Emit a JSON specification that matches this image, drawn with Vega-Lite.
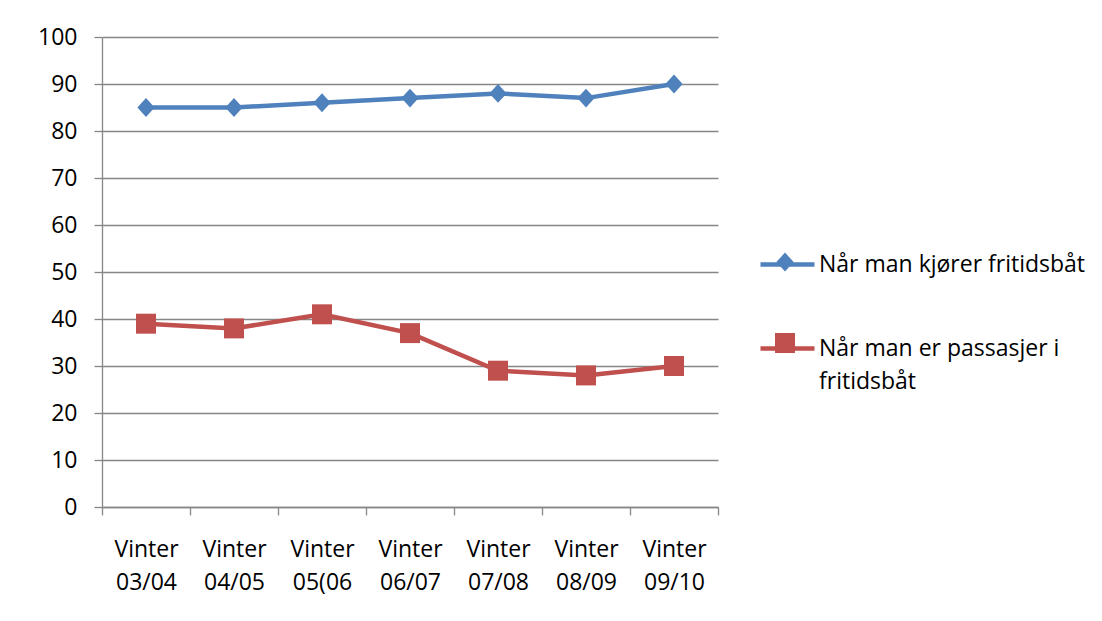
{
  "$schema": "https://vega.github.io/schema/vega-lite/v6.json",
  "width": 616,
  "height": 470,
  "autosize": {"type": "none"},
  "padding": {"left": 102, "top": 37, "right": 384, "bottom": 114},
  "background": "white",
  "config": {
    "view": {"stroke": null},
    "font": "Open Sans",
    "style": {"guide-label": {"lineHeight": 33}},
    "axis": {
      "labelFont": "Open Sans",
      "labelFontSize": 23,
      "labelColor": "#000000",
      "domainColor": "#868686",
      "tickColor": "#868686",
      "gridColor": "#868686",
      "domainWidth": 1.3,
      "tickWidth": 1.3,
      "gridWidth": 1.3,
      "tickSize": 8,
      "title": null
    },
    "legend": {
      "title": null,
      "orient": "none",
      "legendX": 656,
      "legendY": 198,
      "padding": 0,
      "symbolSize": 2916,
      "labelFont": "Open Sans",
      "labelFontSize": 23,
      "labelColor": "#000000",
      "labelOffset": 2,
      "labelLimit": 400,
      "rowPadding": 42
    }
  },
  "data": {
    "values": [
      {"season": "Vinter 03/04", "series": "Når man kjører fritidsbåt", "value": 85},
      {"season": "Vinter 04/05", "series": "Når man kjører fritidsbåt", "value": 85},
      {"season": "Vinter 05(06", "series": "Når man kjører fritidsbåt", "value": 86},
      {"season": "Vinter 06/07", "series": "Når man kjører fritidsbåt", "value": 87},
      {"season": "Vinter 07/08", "series": "Når man kjører fritidsbåt", "value": 88},
      {"season": "Vinter 08/09", "series": "Når man kjører fritidsbåt", "value": 87},
      {"season": "Vinter 09/10", "series": "Når man kjører fritidsbåt", "value": 90},
      {"season": "Vinter 03/04", "series": "Når man er passasjer i fritidsbåt", "value": 39},
      {"season": "Vinter 04/05", "series": "Når man er passasjer i fritidsbåt", "value": 38},
      {"season": "Vinter 05(06", "series": "Når man er passasjer i fritidsbåt", "value": 41},
      {"season": "Vinter 06/07", "series": "Når man er passasjer i fritidsbåt", "value": 37},
      {"season": "Vinter 07/08", "series": "Når man er passasjer i fritidsbåt", "value": 29},
      {"season": "Vinter 08/09", "series": "Når man er passasjer i fritidsbåt", "value": 28},
      {"season": "Vinter 09/10", "series": "Når man er passasjer i fritidsbåt", "value": 30}
    ]
  },
  "encoding": {
    "x": {
      "field": "season",
      "type": "nominal",
      "sort": null,
      "scale": {"paddingInner": 0, "paddingOuter": 0},
      "axis": {
        "labelAngle": 0,
        "tickBand": "extent",
        "labelExpr": "split(datum.label, ' ')",
        "labelLineHeight": 33,
        "labelBaseline": "top",
        "labelPadding": 23
      }
    },
    "y": {
      "field": "value",
      "type": "quantitative",
      "scale": {"domain": [0, 100]},
      "axis": {
        "values": [0, 10, 20, 30, 40, 50, 60, 70, 80, 90, 100],
        "grid": true,
        "labelPadding": 17
      }
    }
  },
  "layer": [
    {
      "mark": {"type": "line", "strokeWidth": 4.5},
      "encoding": {
        "color": {
          "field": "series",
          "type": "nominal",
          "sort": ["Når man kjører fritidsbåt", "Når man er passasjer i fritidsbåt"],
          "scale": {"range": ["#4F81BD", "#C0504D"]},
          "legend": {
            "symbolType": "stroke",
            "symbolStrokeWidth": 4.5,
            "labelExpr": "datum.label == 'Når man er passasjer i fritidsbåt' ? ['Når man er passasjer i', 'fritidsbåt'] : datum.label"
          }
        }
      }
    },
    {
      "mark": {"type": "point", "filled": true, "opacity": 1, "size": 2916, "strokeWidth": 0},
      "encoding": {
        "fill": {
          "field": "series",
          "type": "nominal",
          "scale": {
            "domain": ["Når man kjører fritidsbåt", "Når man er passasjer i fritidsbåt"],
            "range": ["#4F81BD", "#C0504D"]
          },
          "legend": {
            "symbolStrokeWidth": 0,
            "symbolOpacity": 1,
            "labelExpr": "''"
          }
        },
        "shape": {
          "field": "series",
          "type": "nominal",
          "scale": {
            "domain": ["Når man kjører fritidsbåt", "Når man er passasjer i fritidsbåt"],
            "range": ["M0,-0.35L0.32,0L0,0.35L-0.32,0Z", "M-0.37,-0.37H0.37V0.37H-0.37Z"]
          },
          "legend": {
            "symbolStrokeWidth": 0,
            "symbolOpacity": 1,
            "labelExpr": "''"
          }
        }
      }
    }
  ]
}
